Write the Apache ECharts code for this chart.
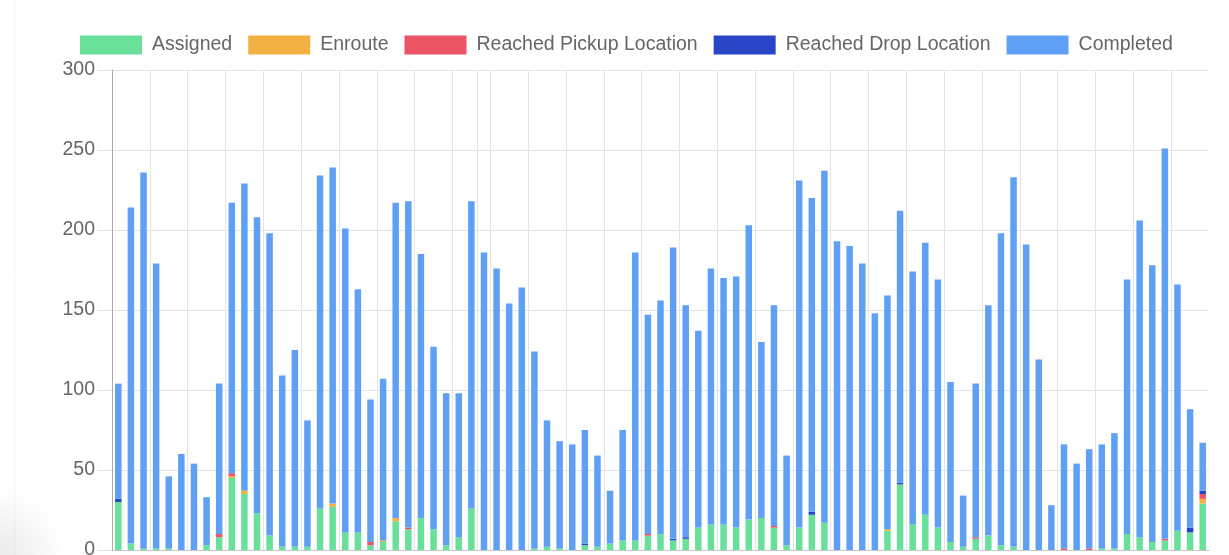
<!DOCTYPE html>
<html>
<head>
<meta charset="utf-8">
<script src="https://cdn.jsdelivr.net/npm/echarts@6/dist/echarts.min.js"></script>
<style>
html,body{margin:0;padding:0;background:#fff;}
#c{width:1229px;height:555px;}
</style>
</head>
<body>
<div id="c"></div>
<script>
const categories = ['1','2','3','4','5','6','7','8','9','10','11','12','13','14','15','16','17','18','19','20','21','22','23','24','25','26','27','28','29','30','31','32','33','34','35','36','37','38','39','40','41','42','43','44','45','46','47','48','49','50','51','52','53','54','55','56','57','58','59','60','61','62','63','64','65','66','67','68','69','70','71','72','73','74','75','76','77','78','79','80','81','82','83','84','85','86','87'];

const assigned = [30,4,1,1,1,0,0,3,8,45,35,23,9,2,2,2,26,27,11,11,3,5,18,13,20,13,3,8,26,0,0,0,0,1,2,1,0,3,2,4,6,6,9,10,6,7,14,16,16,14,19,20,14,3,14,22,17,0,0,0,0,12,41,16,22,14,5,2,7,9,3,2,0,0,0,0,0,0,1,1,10,8,5,6,12,11,29];
const enroute = [0,0,0,0,0,0,0,0,0,1,2,0,0,0,0,0,0,2,0,0,0,1,2,0,0,0,0,0,0,0,0,0,0,0,0,0,0,0,0,0,0,0,0,0,0,0,0,0,0,0,0,0,0,0,0,0,0,0,0,0,0,1,0,0,0,0,0,0,0,0,0,0,0,0,0,0,0,0,0,0,0,0,0,0,0,0,3];
const reachedPickup = [0,0,0,0,0,0,0,0,2,2,0,0,0,0,0,0,0,0,0,0,2,0,0,1,0,0,0,0,0,0,0,0,0,0,0,0,0,0,0,0,0,0,1,0,0,0,0,0,0,0,0,0,1,0,0,0,0,0,0,0,0,0,0,0,0,0,0,0,1,0,0,0,0,0,0,1,0,1,0,0,0,0,0,1,0,0,3];
const reachedDrop = [2,0,0,0,0,0,0,0,0,0,0,0,0,0,0,0,0,0,0,0,0,0,0,0,0,0,0,0,0,0,0,0,0,0,0,0,0,1,0,0,0,0,0,0,1,1,0,0,0,0,0,0,0,0,0,2,0,0,0,0,0,0,1,0,0,0,0,0,0,0,0,0,0,0,0,0,0,0,0,0,0,0,0,0,0,3,2];
const completed = [72,210,235,178,45,60,54,30,94,169,192,185,189,107,123,79,208,210,190,152,89,101,197,204,165,114,95,90,192,186,176,154,164,123,79,67,66,71,57,33,69,180,137,146,182,145,123,160,154,157,184,110,138,56,217,196,220,193,190,179,148,146,170,158,170,155,100,32,96,144,195,231,191,119,28,65,54,62,65,72,159,198,173,244,154,74,30];

const yTicks = [0,50,100,150,200,250,300];
const seriesNames = ['Assigned','Enroute','Reached Pickup Location','Reached Drop Location','Completed'];
const seriesData = [assigned, enroute, reachedPickup, reachedDrop, completed];
const colors = ['#68e09a','#f3b144','#ec5566','#2a45c8','#5fa0f4'];

// vertical grid lines at these category boundaries (as in the reference)
const vGrid = [3,6,9,12,15,18,21,24,27,29,30,33,36,39,42,45,48,51,54,57,60,63,66,69,72,75,78,81,84];

const chart = echarts.init(document.getElementById('c'), null, {renderer:'canvas'});
const FONT = '"Liberation Sans", Arial, Helvetica, sans-serif';
const GRID = '#e4e4e4';
const series = seriesNames.map((n, k) => ({
  name: n,
  type: 'bar',
  stack: 'total',
  barWidth: 6.5,
  data: seriesData[k],
  itemStyle: {color: colors[k]}
}));
series.unshift({
  type: 'line',
  xAxisIndex: 1,
  data: [],
  silent: true,
  z: 0,
  markLine: {
    silent: true,
    symbol: 'none',
    label: {show: false},
    animation: false,
    lineStyle: {color: GRID, type: 'solid', width: 1},
    data: vGrid.map(v => ({xAxis: v}))
  }
});
chart.setOption({
  animation: false,
  color: colors,
  textStyle: {fontFamily: FONT},
  legend: {
    left: 75, top: 30,
    itemWidth: 62, itemHeight: 19, itemGap: 16,
    icon: 'rect',
    textStyle: {fontSize: 19.5, color: '#666', fontFamily: FONT, padding: [4,0,0,5]},
    data: seriesNames
  },
  grid: {left: 112, right: 20, top: 70, bottom: 5, containLabel: false, outerBoundsMode: 'none'},
  xAxis: [{
    type: 'category',
    data: categories,
    boundaryGap: true,
    axisLine: {show: true, lineStyle: {color: '#c8c8c8'}},
    axisTick: {show: false},
    axisLabel: {show: false},
    splitLine: {show: false}
  }, {
    type: 'value',
    min: 0, max: categories.length,
    show: false,
    splitLine: {show: false}
  }],
  yAxis: {
    type: 'value',
    min: yTicks[0], max: yTicks[yTicks.length-1], interval: 50,
    axisLine: {show: true, lineStyle: {color: '#aaaaaa'}},
    axisTick: {show: true, length: 15, lineStyle: {color: GRID}},
    axisLabel: {fontSize: 19.5, color: '#666', margin: 17, fontFamily: FONT},
    splitLine: {show: true, lineStyle: {color: GRID}}
  },
  graphic: [
    {type: 'line', shape: {x1: 15, y1: 0, x2: 15, y2: 555}, style: {stroke: '#f3f3f3', lineWidth: 1}, silent: true, z: -1},
    {type: 'rect', shape: {x: 0, y: 470, width: 200, height: 85}, silent: true, z: -1,
     style: {fill: new echarts.graphic.RadialGradient(0, 1, 0.8, [
       {offset: 0, color: 'rgba(0,0,0,0.08)'},
       {offset: 1, color: 'rgba(0,0,0,0)'}
     ])}}
  ],
  series: series
});
</script>
</body>
</html>
